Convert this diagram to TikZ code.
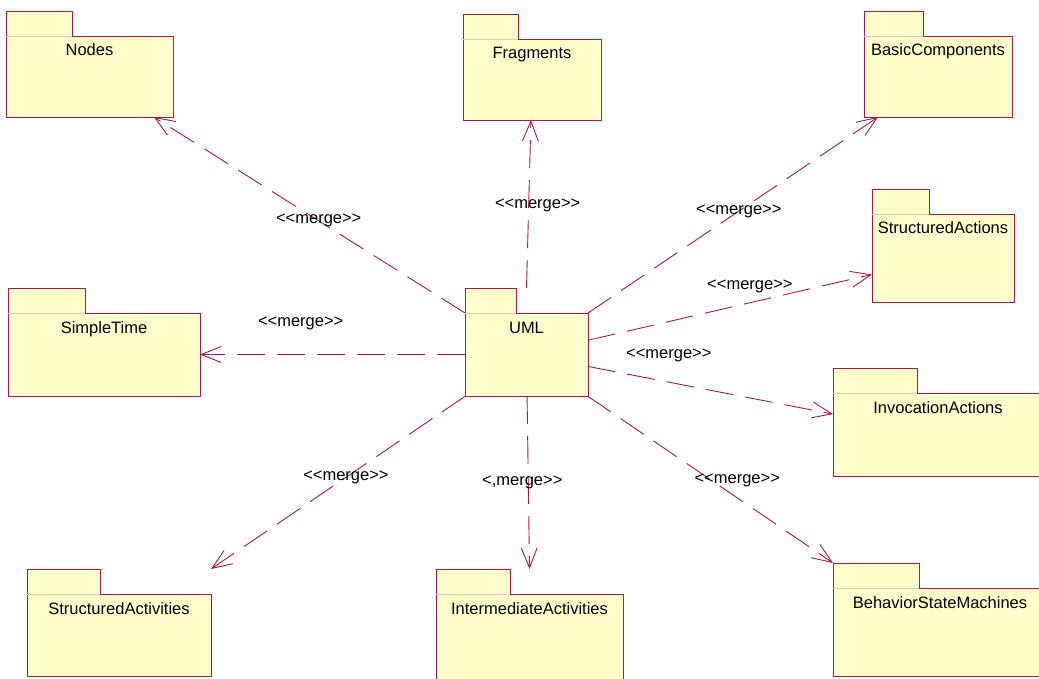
\documentclass[tikz,border=0pt]{standalone}
\usepackage{fontspec}
\setmainfont{Liberation Sans}
\usetikzlibrary{arrows.meta}
\definecolor{umlred}{RGB}{168,24,72}
\definecolor{umlfill}{RGB}{255,255,204}
\definecolor{tabline}{RGB}{236,196,186}
\tikzset{
  pkgbody/.style={draw=umlred, fill=umlfill, line width=0.9pt, anchor=north west, inner sep=0pt, outer sep=0pt},
  pkgtab/.style={pkgbody, anchor=south west, minimum height=25pt},
  tabedge/.style={draw=tabline, line width=0.9pt},
  pkgname/.style={anchor=base, inner sep=0pt, font=\fontsize{16.5}{18}\selectfont},
  mergedep/.style={-{Straight Barb[length=20pt,width=16pt]}, draw=umlred, line width=0.9pt, dash pattern=on 28pt off 12pt},
  mergelbl/.style={inner sep=0pt, font=\fontsize{16.5}{18}\selectfont}
}
\newcommand{\mrg}{<{}<merge>{}>}
\newcommand{\pkg}[7]{%
  \node[pkgbody, minimum width=#4pt, minimum height=#5pt] (#1) at (#2,#3) {};
  \node[pkgtab, minimum width=#6pt] (#1-tab) at (#1.north west) {};
  \draw[tabedge] (#1-tab.south west) -- (#1-tab.south east);
  \node[pkgname] (#1-name) at ([yshift=-20pt]#1.north) {#7};
}

\begin{document}
\begin{tikzpicture}[x=1pt,y=-1pt]
	\useasboundingbox (0,0) rectangle (1039,679);
	\pkg{nodes}{6}{36}{167}{81}{66}{Nodes}
	\pkg{frag}{463}{39}{138}{81}{55}{Fragments}
	\pkg{basic}{864}{36}{148}{81}{59}{BasicComponents}
	\pkg{stime}{8}{313}{192}{83}{77}{SimpleTime}
	\pkg{uml}{465}{313}{123}{83}{51}{UML}
	\pkg{sactions}{872}{214}{142}{88}{57}{StructuredActions}
	\pkg{invoc}{833}{393}{210}{83}{84}{InvocationActions}
	\pkg{sactiv}{27}{594}{184}{82}{73}{StructuredActivities}
	\pkg{inter}{436}{594}{187}{90}{74}{IntermediateActivities}
	\pkg{bsm}{833}{588}{214}{88}{86}{BehaviorStateMachines}
	\draw[mergedep] (uml.north west) to node [mergelbl, pos=0.47] {\mrg} (nodes);
	\draw[mergedep] (uml-tab.north -| uml.north) to node [mergelbl, pos=0.49, xshift=9pt] {\mrg} (frag);
	\draw[mergedep] (uml.north east) to node [mergelbl, pos=0.52] {\mrg} (basic);
	\draw[mergedep] (uml) to node [mergelbl, pos=0.57, yshift=16pt] {\mrg} (sactions);
	\draw[mergedep] (uml) to node [mergelbl, pos=0.33, yshift=27pt] {\mrg} (invoc);
	\draw[mergedep] (uml) to node [mergelbl, pos=0.62, yshift=31pt] {\mrg} (stime);
	\draw[mergedep] (uml) to node [mergelbl, pos=0.47] {\mrg} (sactiv-tab.north -| sactiv.east);
	\draw[mergedep] (uml) to node [mergelbl, pos=0.5, xshift=-6pt] {<,merge>{}>} (inter-tab.north -| inter.north);
	\draw[mergedep] (uml) to node [mergelbl, pos=0.61, yshift=17pt] {\mrg} (bsm-tab.north west);
\end{tikzpicture}
\end{document}
